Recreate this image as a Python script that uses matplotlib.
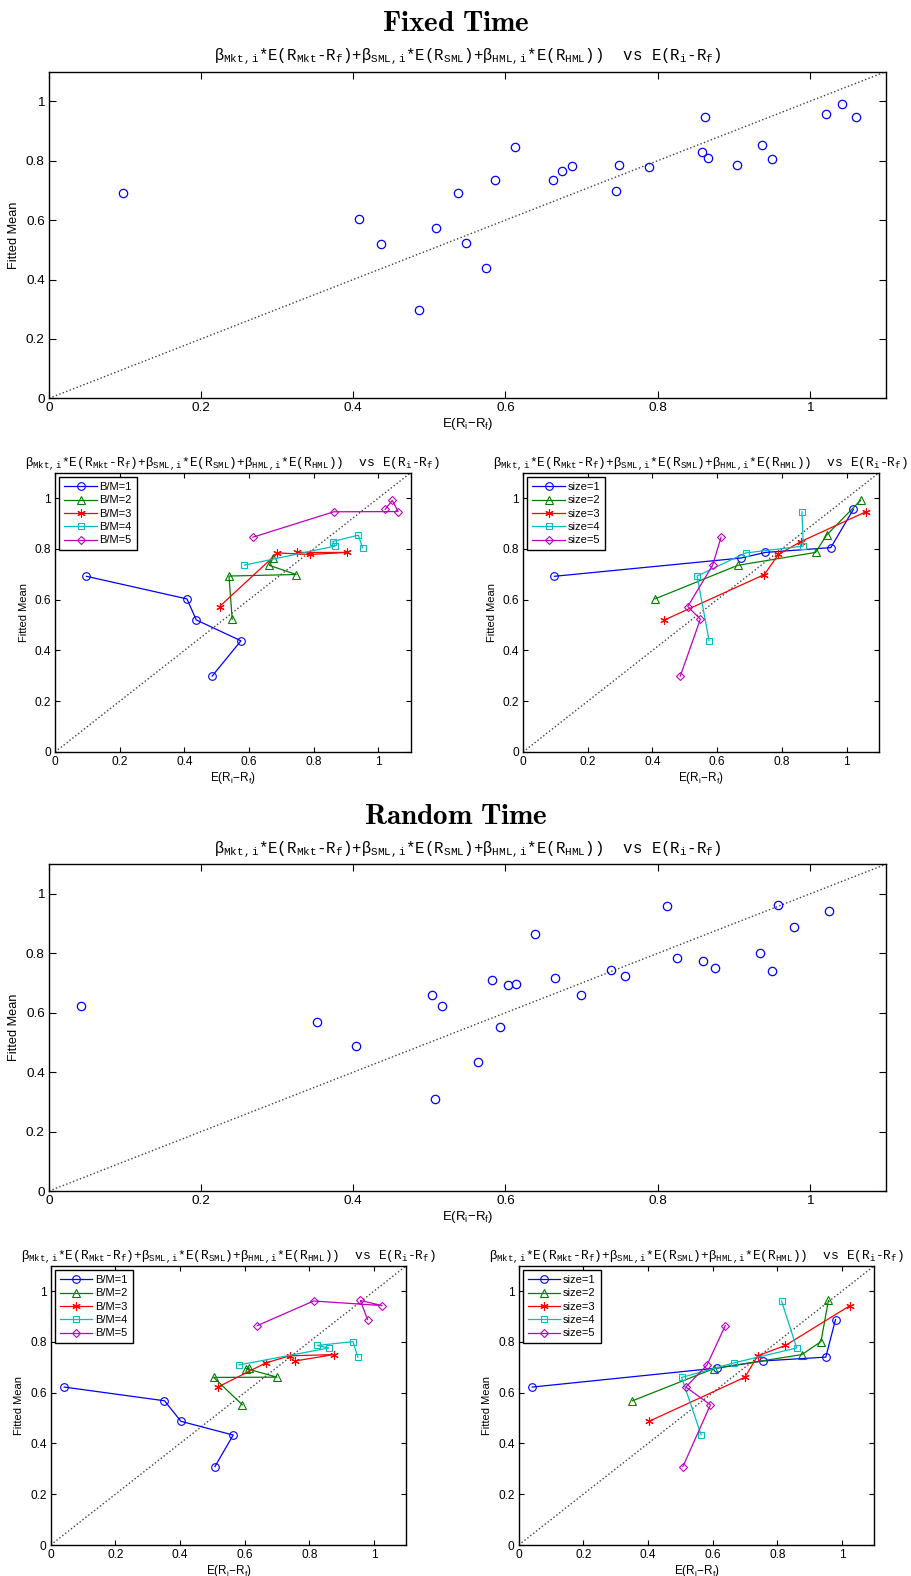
import numpy as np
import matplotlib
matplotlib.use('Agg')
import matplotlib.pyplot as plt
from matplotlib.ticker import FormatStrFormatter

# E(Ri-Rf) and fitted mean, rows = size 1..5, columns = B/M 1..5
fixed_er = [[0.097, 0.674, 0.749, 0.951, 1.021],
            [0.408, 0.663, 0.904, 0.938, 1.043],
            [0.437, 0.746, 0.789, 0.859, 1.061],
            [0.575, 0.538, 0.688, 0.866, 0.862],
            [0.486, 0.548, 0.509, 0.586, 0.612]]
fixed_fit = [[0.692, 0.764, 0.786, 0.805, 0.956],
             [0.603, 0.735, 0.786, 0.854, 0.991],
             [0.520, 0.699, 0.778, 0.829, 0.947],
             [0.438, 0.693, 0.784, 0.811, 0.946],
             [0.299, 0.523, 0.573, 0.736, 0.846]]

random_er = [[0.042, 0.614, 0.757, 0.950, 0.980],
             [0.352, 0.604, 0.876, 0.935, 0.958],
             [0.403, 0.700, 0.739, 0.825, 1.025],
             [0.5645, 0.504, 0.665, 0.860, 0.813],
             [0.508, 0.593, 0.517, 0.5825, 0.639]]
random_fit = [[0.622, 0.697, 0.725, 0.740, 0.888],
              [0.568, 0.695, 0.750, 0.801, 0.963],
              [0.487, 0.661, 0.745, 0.786, 0.943],
              [0.433, 0.660, 0.717, 0.776, 0.961],
              [0.309, 0.552, 0.622, 0.709, 0.864]]

bm_labels = ['B/M=1', 'B/M=2', 'B/M=3', 'B/M=4', 'B/M=5']
size_labels = ['size=1', 'size=2', 'size=3', 'size=4', 'size=5']
ticks = [0, 0.2, 0.4, 0.6, 0.8, 1.0]

plt.rcParams['font.family'] = 'Liberation Sans'
plt.rcParams['mathtext.fontset'] = 'custom'
plt.rcParams['mathtext.rm'] = 'Liberation Mono'
plt.rcParams['mathtext.it'] = 'Liberation Mono'
plt.rcParams['mathtext.sf'] = 'Liberation Sans'

W, H = 912, 1576
fig = plt.figure(figsize=(W / 100, H / 100), dpi=100)

subtitle = (r'$\mathsf{\beta}_{Mkt,i}$*E(R$_{Mkt}$-R$_{f}$)+$\mathsf{\beta}_{SML,i}$*E(R$_{SML}$)'
            r'+$\mathsf{\beta}_{HML,i}$*E(R$_{HML}$))  vs E(R$_{i}$-R$_{f}$)')
xlab = r'E(R$_\mathsf{i}$$\mathsf{-}$R$_\mathsf{f}$)'

colors = ['b', 'g', 'r', 'c', 'm']
markers = ['o', '^', (6, 2, 0), 's', 'D']
msizes = [5.5, 6, 6, 4.5, 4.5]


def add_ax(l, t, r, b):
    return fig.add_axes([l / W, 1 - b / H, (r - l) / W, (b - t) / H])


def style(ax, big):
    ax.set_xlim(0, 1.1)
    ax.set_ylim(0, 1.1)
    ax.set_xticks(ticks)
    ax.set_yticks(ticks)
    ax.xaxis.set_major_formatter(FormatStrFormatter('%g'))
    ax.yaxis.set_major_formatter(FormatStrFormatter('%g'))
    ax.tick_params(direction='in', top=True, right=True,
                   length=5 if big else 3.5, width=0.8,
                   labelsize=9.7 if big else 8.6, pad=3)
    for s in ax.spines.values():
        s.set_linewidth(1.0)
    ax.plot([0, 1.1], [0, 1.1], ':', color='0.25', lw=1)
    ax.set_title(subtitle, fontfamily='Liberation Mono',
                 fontsize=11.3 if big else 9.3, pad=8 if big else 4)
    ax.set_ylabel('Fitted Mean', fontsize=9.2 if big else 8)
    ax.set_xlabel(xlab, fontsize=9.5 if big else 8.5, labelpad=1)


def scatter_panel(ax, er, fit):
    style(ax, True)
    ax.plot(np.ravel(er), np.ravel(fit), 'o', mfc='none', mec='b',
            ms=6, mew=0.9, linestyle='none')


def line_panel(ax, er, fit, by_bm):
    style(ax, False)
    er = np.array(er)
    fit = np.array(fit)
    for k in range(5):
        if by_bm:
            xs, ys, lab = er[:, k], fit[:, k], bm_labels[k]
        else:
            xs, ys, lab = er[k, :], fit[k, :], size_labels[k]
        ax.plot(xs, ys, '-', color=colors[k], marker=markers[k], mfc='none',
                mec=colors[k], ms=msizes[k], mew=0.8, lw=0.9, label=lab)
    leg = ax.legend(loc='upper left', fontsize=8, frameon=True, fancybox=False,
                    edgecolor='k', framealpha=1, labelspacing=0.3,
                    handlelength=2.9, handletextpad=0.25, borderpad=0.45,
                    borderaxespad=0.4)
    leg.get_frame().set_linewidth(1.0)


# Fixed time block
fig.text(456 / W, 1 - 23 / H, r'$\mathbf{Fixed\ Time}$', math_fontfamily='cm',
         fontsize=21, ha='center', va='center')
ax1 = add_ax(49, 71.7, 885.7, 398.3)
scatter_panel(ax1, fixed_er, fixed_fit)
ax2 = add_ax(55, 472.7, 410.7, 752)
line_panel(ax2, fixed_er, fixed_fit, True)
ax3 = add_ax(523, 472.7, 879, 752)
line_panel(ax3, fixed_er, fixed_fit, False)

# Random time block
fig.text(456 / W, 1 - 815.5 / H, r'$\mathbf{Random\ Time}$', math_fontfamily='cm',
         fontsize=21, ha='center', va='center')
ax4 = add_ax(49, 864.3, 885.7, 1191)
scatter_panel(ax4, random_er, random_fit)
ax5 = add_ax(50.7, 1265.7, 406.3, 1545)
line_panel(ax5, random_er, random_fit, True)
ax6 = add_ax(518.7, 1265.7, 874.3, 1545)
line_panel(ax6, random_er, random_fit, False)

fig.savefig('out.png', dpi=100)
